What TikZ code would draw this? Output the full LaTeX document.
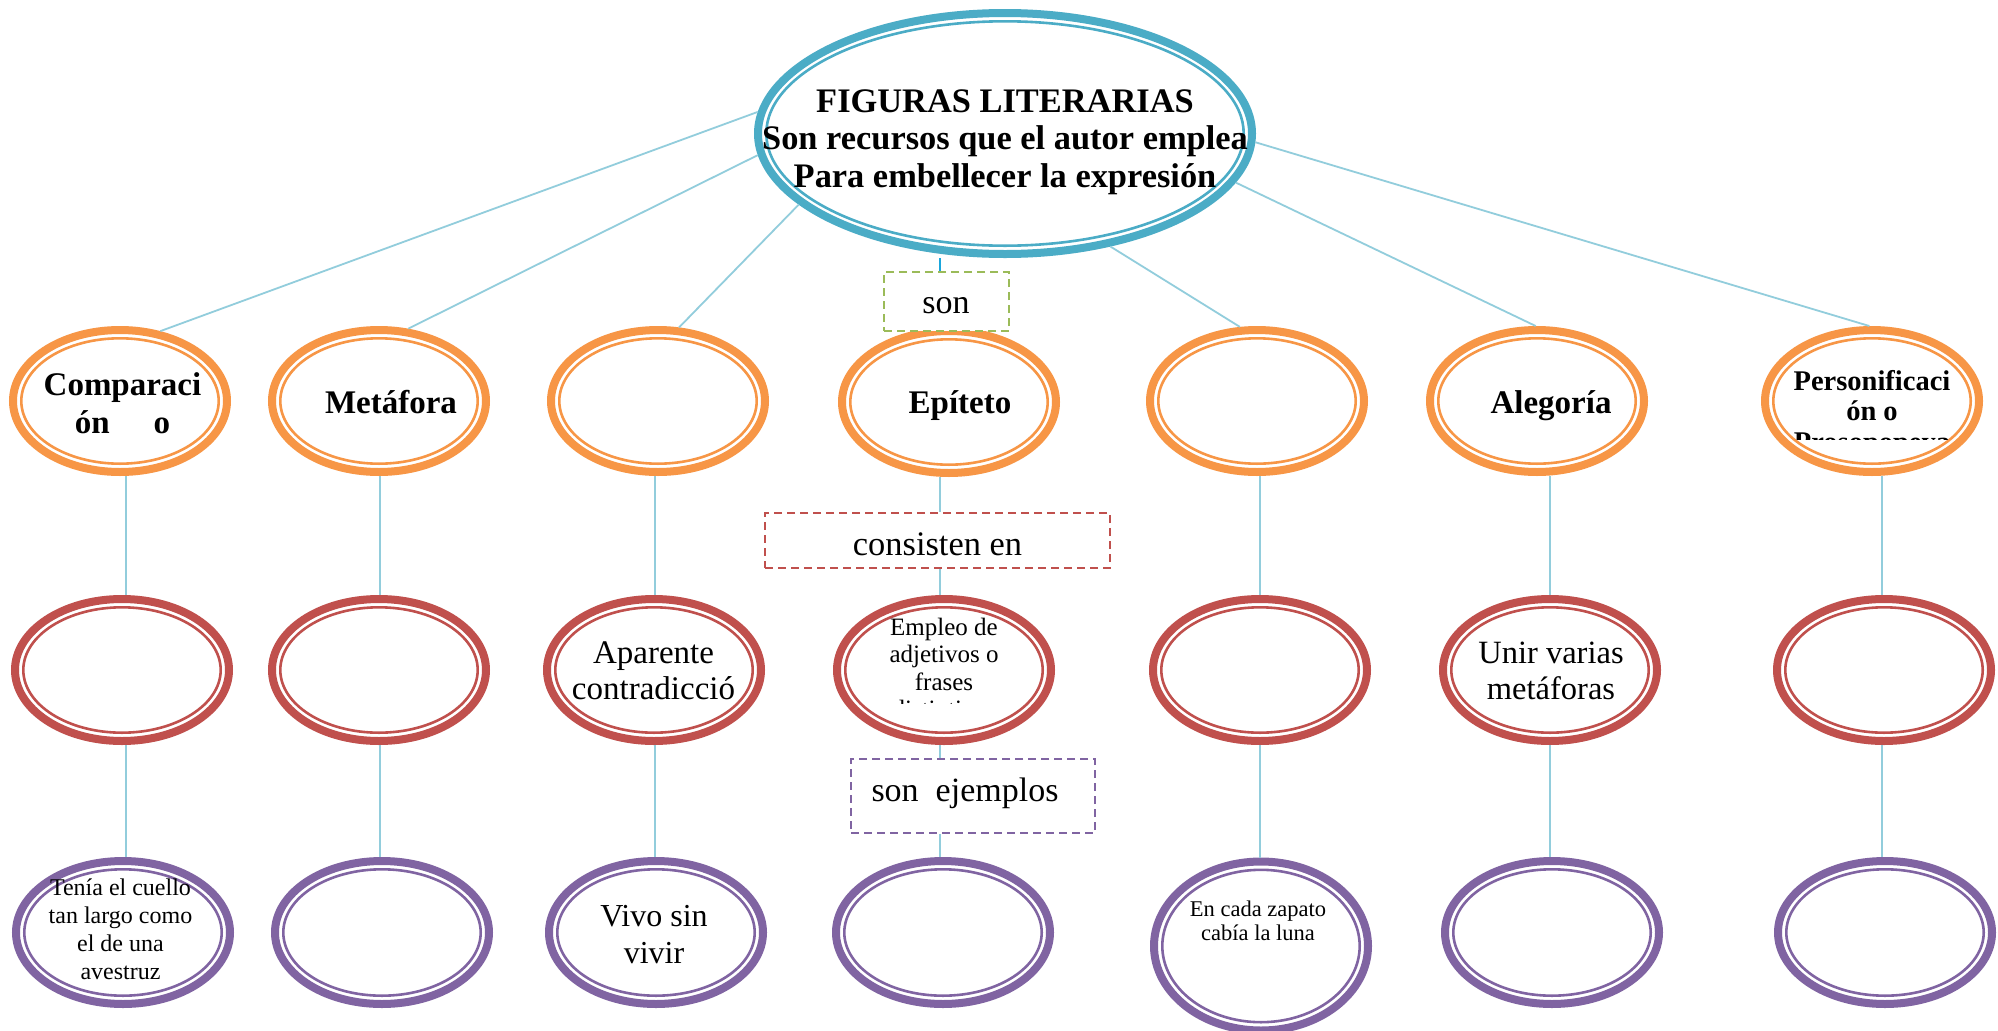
\documentclass[tikz,border=0pt]{standalone}
\usepackage{fontspec}
\setmainfont{Liberation Serif}
\usetikzlibrary{shapes.geometric,calc}
\definecolor{orangeC}{HTML}{F79646}
\definecolor{redC}{HTML}{C0504D}
\definecolor{purpleC}{HTML}{8064A2}
\definecolor{blueC}{HTML}{4BACC6}
\definecolor{greenC}{HTML}{9BBB59}
\definecolor{connC}{HTML}{92CDDC}
\definecolor{sonC}{HTML}{1AA6DC}
\newcommand\ml[1]{\vtop{\halign{\hfil##\hfil\cr#1\crcr}}}
\tikzset{
 ring/.style={ellipse, draw=#1, line width=8pt, fill=white, inner sep=0pt,
   minimum width=214pt, minimum height=142pt,
   path picture={\draw[#1,line width=2.6pt] let \p1=(path picture bounding box.north east),
     \p2=(path picture bounding box.center) in
     (\p2) ellipse [x radius={\x1-\x2-8.3pt}, y radius={\y1-\y2-8.3pt}];}},
 conn/.style={draw=connC, line width=1.8pt},
 lbl/.style={anchor=base, inner sep=0pt, text=black},
 dbox/.style={draw=#1, dash pattern=on 8pt off 5pt, line width=2.2pt, inner sep=0pt, fill=white},
}
\begin{document}
\begin{tikzpicture}[x=1pt,y=-1pt]
\fill[white] (0,0) rectangle (1998,1031);
\useasboundingbox (0,0) rectangle (1998,1031);

% main ellipse
\node[ring=blueC, minimum width=494pt, minimum height=241pt] (main) at (1005,133.5) {};

% row 1 (orange)
\node[ring=orangeC] (o1) at (120,401) {};
\node[ring=orangeC] (o2) at (379,401) {};
\node[ring=orangeC] (o3) at (658,401) {};
\node[ring=orangeC] (o4) at (949,402) {};
\node[ring=orangeC] (o5) at (1257,401) {};
\node[ring=orangeC] (o6) at (1537,401) {};
\node[ring=orangeC] (o7) at (1872,401) {};

% row 2 (red)
\node[ring=redC] (r1) at (122,670) {};
\node[ring=redC] (r2) at (379,670) {};
\node[ring=redC] (r3) at (654,670) {};
\node[ring=redC] (r4) at (944,670) {};
\node[ring=redC] (r5) at (1260,670) {};
\node[ring=redC] (r6) at (1550,670) {};
\node[ring=redC] (r7) at (1884,670) {};

% row 3 (purple)
\node[ring=purpleC, minimum height=143pt] (p1) at (123,932.5) {};
\node[ring=purpleC, minimum height=143pt] (p2) at (382,932.5) {};
\node[ring=purpleC, minimum height=143pt] (p3) at (656,932.5) {};
\node[ring=purpleC, minimum height=143pt] (p4) at (943,932.5) {};
\node[ring=purpleC, minimum height=169pt] (p5) at (1261,946) {};
\node[ring=purpleC, minimum height=143pt] (p6) at (1552,932.5) {};
\node[ring=purpleC, minimum height=143pt] (p7) at (1885,932.5) {};

% dashed connector boxes
\node[dbox=greenC, minimum width=125pt, minimum height=59pt] (son) at (946.5,301.5) {};
\node[dbox=redC, minimum width=345pt, minimum height=55pt] (cons) at (937.5,540.5) {};
\node[dbox=purpleC, minimum width=244pt, minimum height=74pt] (ejem) at (973,796) {};

% connectors from main
\draw[conn] (main.175.7) -- (o1.60.6);
\draw[conn] (main.185.3) -- (o2.68.7);
\draw[conn] (main.199.9) -- (o3.74.9);
\draw[conn] (main.313.3) -- (o5.103.5);
\draw[conn] (main.348.8) -- (o6.91);
\draw[conn] (main.358.5) -- (o7.92);

% epiteto column
\coordinate (c4) at (940,0);
\draw[draw=sonC, line width=2pt] (main.south -| c4) -- (son.north -| c4);
\draw[conn] (o4.south -| c4) -- (cons.north -| c4);
\draw[conn] (cons.south -| c4) -- (r4.north -| c4);
\draw[conn] (r4.south -| c4) -- (ejem.north -| c4);
\draw[conn] (ejem.south -| c4) -- (p4.north -| c4);

% other columns
\foreach \i/\cx in {1/126,2/380,3/655,5/1260,6/1550,7/1882} {
  \coordinate (c\i) at (\cx,0);
  \draw[conn] (o\i.south -| c\i) -- (r\i.north -| c\i);
  \draw[conn] (r\i.south -| c\i) -- (p\i.north -| c\i);
}

% texts
\node[lbl, font=\fontsize{34.4}{37.5}\selectfont\bfseries] (title) at (1005,112)
  {\ml{FIGURAS LITERARIAS\cr Son recursos que el autor emplea\cr Para embellecer la expresión}};

\node[lbl, font=\fontsize{33}{38}\selectfont\bfseries] (t1) at (122.5,395) {\ml{Comparaci\cr ón\hspace{44pt}o}};
\node[lbl, font=\fontsize{33}{38}\selectfont\bfseries] (t2) at (391,413) {Metáfora};
\node[lbl, font=\fontsize{33}{38}\selectfont\bfseries] (t4) at (960,413) {Epíteto};
\node[lbl, font=\fontsize{33}{38}\selectfont\bfseries] (t6) at (1551,413) {Alegoría};
\begin{scope}
\clip (1760,330) rectangle (1995,439.5);
\node[lbl, font=\fontsize{28.5}{30.5}\selectfont\bfseries] (t7) at (1872,390) {\ml{Personificaci\cr ón o\cr Prosopopeya}};
\end{scope}

\node[lbl, font=\fontsize{33}{36}\selectfont] (u3) at (653.5,663) {\ml{Aparente\cr contradicció}};
\begin{scope}
\clip (830,600) rectangle (1060,703);
\node[lbl, font=\fontsize{25}{27.5}\selectfont] (u4) at (944,635) {\ml{Empleo de\cr adjetivos o\cr frases\cr distintivas}};
\end{scope}
\node[lbl, font=\fontsize{32.5}{36}\selectfont] (u6) at (1551,663) {\ml{Unir varias\cr metáforas}};

\node[lbl, font=\fontsize{24}{28}\selectfont] (v1) at (120.5,895) {\ml{Tenía el cuello\cr tan largo como\cr el de una\cr avestruz}};
\node[lbl, font=\fontsize{32}{37}\selectfont] (v3) at (654,926) {\ml{Vivo sin\cr vivir}};
\node[lbl, font=\fontsize{22.5}{24}\selectfont] (v5) at (1258,916) {\ml{En cada zapato\cr cabía la luna}};

\node[lbl, font=\fontsize{34}{38}\selectfont] (sont) at (946,313) {son};
\node[lbl, font=\fontsize{34.4}{38}\selectfont] (const) at (937.5,555) {consisten en};
\node[lbl, font=\fontsize{34}{38}\selectfont] (ejemt) at (965,801) {son\ \ ejemplos};
\end{tikzpicture}
\end{document}
